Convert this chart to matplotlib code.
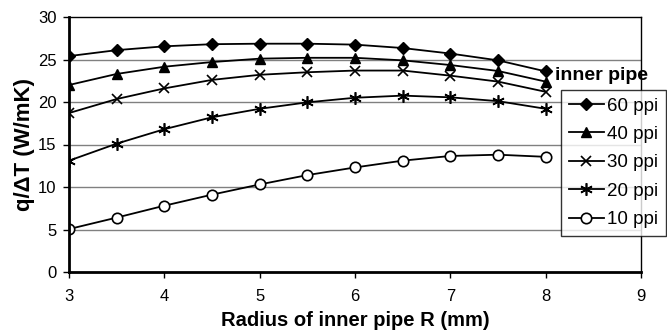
import numpy as np
import matplotlib.pyplot as plt

plt.rcParams['font.family'] = ['Liberation Sans', 'DejaVu Sans']

# Radius of inner pipe (mm)
r = [3, 3.5, 4, 4.5, 5, 5.5, 6, 6.5, 7, 7.5, 8]

# q/dT (W/mK) for each foam density
ppi60 = [25.4, 26.1, 26.55, 26.8, 26.86, 26.86, 26.75, 26.35, 25.7, 24.9, 23.6]
ppi40 = [22.0, 23.3, 24.15, 24.7, 25.1, 25.2, 25.2, 24.9, 24.35, 23.65, 22.4]
ppi30 = [18.7, 20.35, 21.6, 22.6, 23.2, 23.5, 23.7, 23.7, 23.1, 22.4, 21.2]
ppi20 = [13.1, 15.1, 16.8, 18.2, 19.2, 19.96, 20.5, 20.75, 20.55, 20.1, 19.2]
ppi10 = [5.05, 6.4, 7.8, 9.1, 10.3, 11.4, 12.3, 13.1, 13.65, 13.8, 13.55]

fig = plt.figure(figsize=(6.67, 3.34), dpi=100)
ax = fig.add_axes([69 / 667, 1 - 272 / 334, (641 - 69) / 667, (272 - 17) / 334])

ax.plot(r, ppi60, color='black', lw=1.3, marker='D', markersize=6, label='60 ppi')
ax.plot(r, ppi40, color='black', lw=1.3, marker='^', markersize=7.5, label='40 ppi')
ax.plot(r, ppi30, color='black', lw=1.3, marker='x', markersize=7.5, mew=1.2, label='30 ppi')
ax.plot(r, ppi20, color='black', lw=1.3, marker=(6, 2, 0), markersize=9, mew=1.2, label='20 ppi')
ax.plot(r, ppi10, color='black', lw=1.3, marker='o', markersize=7.5, mfc='white', mew=1.2,
        label='10 ppi')

ax.set_xlim(3, 9)
ax.set_ylim(0, 30)
ax.set_xticks(range(3, 10))
ax.set_yticks(range(0, 31, 5))
for y in range(5, 30, 5):
    ax.axhline(y, color='#808080', lw=1, zorder=0)

ax.spines['left'].set_linewidth(2)
ax.spines['bottom'].set_linewidth(2)
ax.spines['top'].set_linewidth(1)
ax.spines['right'].set_linewidth(1)
ax.tick_params(axis='both', labelsize=12, direction='out', length=4, width=1)
ax.tick_params(axis='x', pad=8)
ax.tick_params(axis='y', pad=5)

ax.set_xlabel('Radius of inner pipe R (mm)', fontsize=14.5, fontweight='bold', labelpad=5)
ax.set_ylabel('q/\u0394T (W/mK)', fontsize=16, fontweight='bold', labelpad=2)

leg = ax.legend(loc='upper left', bbox_to_anchor=(561 / 667, 1 - 90 / 334),
                bbox_transform=fig.transFigure, frameon=True, fancybox=False,
                edgecolor='black', fontsize=13.5, handlelength=1.9, labelspacing=0.6,
                borderpad=0.4, handletextpad=0.15, borderaxespad=0)
leg.get_frame().set_linewidth(1)
fig.text(555 / 667, 1 - 75 / 334, 'inner pipe', fontsize=14, fontweight='bold',
         va='center', ha='left')

fig.savefig('out.png', dpi=100)
